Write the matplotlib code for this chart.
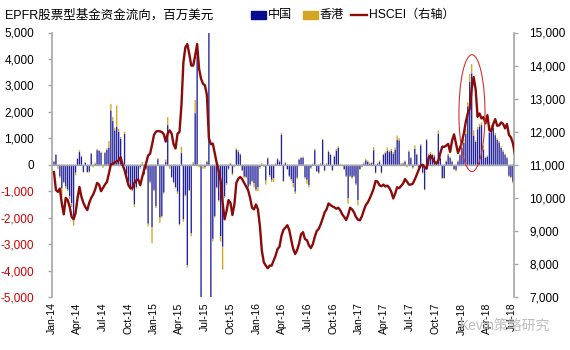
import numpy as np
import pandas as pd
import matplotlib
matplotlib.use('Agg')
import matplotlib.pyplot as plt
import matplotlib.dates as mdates
from matplotlib.patches import Ellipse, Rectangle
from matplotlib.lines import Line2D
from matplotlib.ticker import MultipleLocator, FuncFormatter

plt.rcParams['font.family'] = ['Liberation Sans', 'Noto Sans CJK SC']

# weekly EPFR equity fund flows (USD mn) and HSCEI close
weeks = pd.date_range('2014-01-08', periods=237, freq='7D')

china = [
    120, 380, -50, -440, -900, -650, -820, -940, -1200, -1450,
    -1950, -300, 220, 490, 310, -270, 80, -280, -260, 420,
    -40, 40, 550, 530, 460, -40, 440, 560, 650, 2050,
    1650, 1300, 1440, 1250, 990, -40, 1170, -350, -640, -870,
    -950, -1500, -840, -560, -100, 20, -360, -150, -2230, -640,
    -2360, -950, -1560, 210, -2000, -1940, -1050, 100, 1500, -70,
    -470, -660, -850, -1020, -2240, 440, -2070, -1140, -3800, -960,
    -2600, 40, 1950, 4100, -40, -6400, -50, -100, 100, 5200,
    -5300, -2800, -1940, -860, -1340, -2700, -3100, -1200, -710, -150,
    40, -340, -60, 580, 500, 390, -210, -450, -460, -840,
    -750, -610, -700, -940, -850, -90, 20, -30, -600, 240,
    -400, -570, -500, 20, 210, 120, 1140, -610, 60, -160,
    -420, -550, -700, -1020, -490, 190, 260, 270, -480, -570,
    -770, -110, 20, 550, -250, -300, 20, 940, -220, 20,
    490, 380, -210, 310, 540, 640, 10, 0, -170, -420,
    -1270, -420, -480, -420, -720, -1340, -160, -70, 40, 170,
    120, 40, 60, 550, -300, 30, 120, -300, 370, 440,
    520, 480, 520, 420, 570, 950, 920, 20, 40, 120,
    -60, 500, 250, -110, 600, 380, -110, 730, -300, -940,
    930, 360, 420, 370, 320, 60, 1170, 250, -500, -500,
    120, 360, 260, 120, -160, -210, 120, 360, 640, 830,
    1160, 2210, 3130, 3460, 1100, 860, 1340, 1450, 1500, 580,
    260, 310, 1220, 1400, 1400, 1120, 940, 840, 640, 500,
    380, 250, -420, -460, -640, -800, -740,
]

hk = [
    30, 20, -100, -60, -300, -50, -80, -60, -100, -150,
    -350, -100, 30, 60, 40, -30, 20, -20, -40, 30,
    -60, 40, 50, 30, 40, -80, 40, 60, 250, 250,
    150, 100, 800, 100, 60, -60, 80, -50, -60, -80,
    -50, -100, -60, -40, -50, 80, -40, -50, -100, -60,
    -600, -50, -80, 40, -200, -60, -50, 100, 300, -80,
    -30, -40, -50, -80, -60, 250, -80, -60, -80, -40,
    -100, 60, 500, 100, -60, -100, -100, -50, 50, 0,
    0, -100, -60, -40, -60, -200, -870, -60, -50, -50,
    40, -60, -40, 40, 60, 40, -40, -50, -40, -60,
    -50, -40, -150, -60, -150, -60, 40, -50, -150, 40,
    -50, -80, -150, 30, 40, 40, 60, -40, 40, -40,
    -40, -50, -150, -80, -60, 40, 30, 40, -50, -150,
    -80, -40, 30, 50, -30, -40, 40, 40, -30, 40,
    50, 40, -40, 40, 60, 60, 30, 20, -30, -40,
    -200, -40, -50, -40, -60, -200, -40, -30, 40, 60,
    40, 40, 40, 120, -40, 30, 40, -40, 50, 60,
    130, 60, 80, 60, 80, 150, 80, 40, 40, 40,
    -40, 40, 40, -40, 130, 40, -40, 60, -40, -30,
    50, 60, 60, 50, 60, 40, 130, 40, -30, -30,
    40, 60, 40, 40, -40, -40, 40, 60, 150, 150,
    200, 150, 300, 350, 200, 60, 80, 100, 100, 150,
    40, 40, 80, 100, 200, 80, 60, 60, 60, 50,
    40, 40, -40, -40, -60, -200, -60,
]

hscei = [
    10780, 10240, 10180, 10280, 9830, 9500, 10000, 9930, 9730, 9430,
    9350, 9530, 9980, 10330, 10030, 9850, 9720, 9630, 9850, 10000,
    10100, 10250, 10450, 10400, 10200, 10300, 10400, 10480, 10730, 11010,
    11030, 11070, 11100, 11130, 11230, 11000, 10830, 10600, 10380, 10290,
    10300, 10450, 10530, 10550, 10380, 10630, 10850, 11050, 11280, 11330,
    11600, 11900, 12000, 12020, 12010, 11990, 11920, 11700, 11950, 12040,
    11940, 11620, 11490, 11940, 11990, 12800, 14100, 14550, 14650, 14350,
    14000, 14000, 14300, 14650, 13900, 13600, 13450, 13400, 13100, 11800,
    11620, 11640, 11350, 11050, 10800, 10500, 9850, 9350, 9600, 9930,
    9850, 9480, 9800, 10450, 10580, 10630, 10560, 10450, 10340, 10230,
    10000, 9700, 9650, 9800, 9650, 9150, 8400, 8050, 7950, 7870,
    7950, 7950, 8100, 8250, 8450, 8520, 8850, 9030, 9100, 9170,
    9020, 8720, 8450, 8300, 8420, 8620, 8900, 8960, 8750, 8720,
    8560, 8480, 8600, 8820, 9000, 9060, 9200, 9370, 9560, 9650,
    9830, 9780, 9740, 9710, 9670, 9700, 9620, 9500, 9420, 9330,
    9480, 9700, 9650, 9560, 9420, 9340, 9320, 9440, 9620, 9780,
    9860, 9980, 10120, 10280, 10510, 10490, 10380, 10350, 10400, 10340,
    10370, 10300, 10180, 9980, 10130, 10320, 10290, 10360, 10430, 10570,
    10490, 10400, 10400, 10430, 10560, 10700, 10850, 10980, 11000, 10920,
    10880, 11200, 11270, 11190, 11090, 11040, 11130, 11350, 11550, 11540,
    11580, 11630, 11390, 11730, 11920, 11640, 11360, 11500, 11680, 11950,
    12300, 12550, 12700, 13300, 13650, 13290, 12450, 12550, 12400, 12440,
    12250, 12500, 12050, 12020, 12230, 12380, 12180, 12190, 12280, 12240,
    12100, 12230, 11900, 11830, 11650, 11350, 11000,
]

BLUE = '#22229A'
GOLD = '#D4A520'
LINE = '#8B0A0A'
GREY = '#A6A6A6'

W, H = 570, 350
fig = plt.figure(figsize=(5.7, 3.5), dpi=100)
ax = fig.add_axes([52 / W, 1 - 297 / H, (514 - 52) / W, (297 - 32.5) / H])

# snap off so the thin weekly bars render evenly
ax.bar(weeks, china, width=4.8, color=BLUE, linewidth=0, zorder=2, snap=False)
ax.bar(weeks, hk, bottom=china, width=4.8, color=GOLD, linewidth=0, zorder=2,
       snap=False)
ax.axhline(0, color=GREY, lw=1, zorder=3)

ax.set_xlim(pd.Timestamp('2014-01-01'), pd.Timestamp('2018-07-08'))
ax.set_ylim(-5000, 5000)
yt = list(range(-5000, 5001, 1000))
ax.set_yticks(yt)
ax.set_yticklabels([f'{v:,}' for v in yt])
for v, lbl in zip(yt, ax.get_yticklabels()):
    lbl.set_color('#CC0000' if v < 0 else 'black')
ax.tick_params(axis='y', direction='out', length=3, width=1, color=GREY,
               labelsize=8.5, pad=10)

ax.xaxis.set_major_locator(mdates.MonthLocator(bymonth=[1, 4, 7, 10]))
ax.xaxis.set_major_formatter(mdates.DateFormatter('%b-%y'))
ax.tick_params(axis='x', length=0, pad=4, labelsize=7.5, labelrotation=90)

for s in ['top', 'bottom', 'right']:
    ax.spines[s].set_visible(False)
ax.spines['left'].set_color(GREY)
ax.spines['left'].set_linewidth(1.2)

# HSCEI on the right axis
ax2 = ax.twinx()
ax2.plot(weeks, hscei, color=LINE, lw=1.7, zorder=4)
ax2.set_ylim(7000, 15000)
ax2.yaxis.set_major_locator(MultipleLocator(1000))
ax2.yaxis.set_major_formatter(FuncFormatter(lambda v, p: f'{int(v):,}'))
ax2.tick_params(axis='y', direction='out', length=3, width=1, color=GREY,
                labelsize=8.5, pad=8)
for s in ['top', 'bottom', 'left']:
    ax2.spines[s].set_visible(False)
ax2.spines['right'].set_color(GREY)
ax2.spines['right'].set_linewidth(1.2)

# circle the early-2018 spike
ax2.add_patch(Ellipse((mdates.date2num(pd.Timestamp('2018-02-08')), 12560),
                      width=93, height=3535, fill=False,
                      edgecolor='#D03535', lw=0.8, zorder=5))

# title and legend along the top
ty = 1 - 15 / H
fig.text(5 / W, ty, 'EPFR股票型基金资金流向，百万美元', fontsize=9, va='center')
fig.patches.append(Rectangle((251 / W, ty - 3.5 / H), 15 / W, 7 / H,
                             transform=fig.transFigure, color='#0A0A8C'))
fig.text(268 / W, ty, '中国', fontsize=8.7, va='center')
fig.patches.append(Rectangle((303 / W, ty - 3.5 / H), 15 / W, 7 / H,
                             transform=fig.transFigure, color=GOLD))
fig.text(320 / W, ty, '香港', fontsize=8.7, va='center')
fig.lines.append(Line2D([351 / W, 367 / W], [ty, ty], transform=fig.transFigure,
                        color=LINE, lw=1.7))
fig.text(369 / W, ty, 'HSCEI（右轴）', fontsize=8.7, va='center')

fig.text(460 / W, 1 - 326 / H, 'Kevin策略研究', fontsize=10, va='center',
         color='#BDBDBD')

fig.savefig('out.png', dpi=100)
